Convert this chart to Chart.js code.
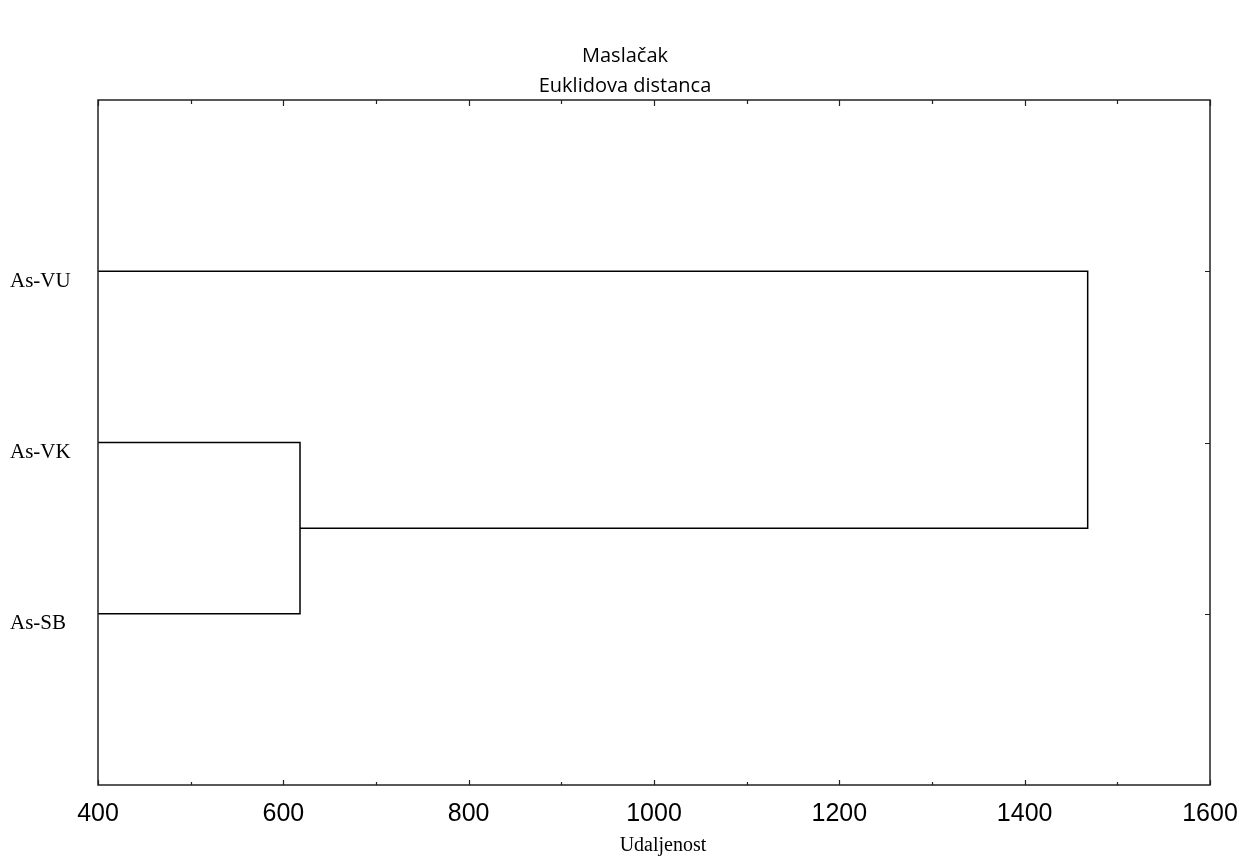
<!DOCTYPE html>
<html>
<head>
<meta charset="utf-8">
<script src="https://cdn.jsdelivr.net/npm/chart.js@4.4.0/dist/chart.umd.min.js"></script>
<style>
  html, body { margin: 0; padding: 0; background: #fff; }
  #wrap { width: 1254px; height: 861px; }
</style>
</head>
<body>
<div id="wrap"><canvas id="myChart" width="1254" height="861"></canvas></div>
<script>
// leaves, top to bottom
var leaves = ['As-VU', 'As-VK', 'As-SB'];
// linkage steps: [left member, right member, distance]
var merges = [
    ['As-VK', 'As-SB', 618],
    ['c1', 'As-VU', 1468]
];
var titleLines = ['Maslačak', 'Euklidova distanca'];
var xTitle = 'Udaljenost';
var xMin = 400, xMax = 1600;
var xMajor = [400, 600, 800, 1000, 1200, 1400, 1600];
var xMinor = [500, 700, 900, 1100, 1300, 1500];

// position and height of each node (leaf or cluster)
var pos = {}, height = {};
leaves.forEach(function (name, i) { pos[name] = i + 1; height[name] = xMin; });

var datasets = [];
merges.forEach(function (m, i) {
    var a = m[0], b = m[1], d = m[2];
    datasets.push({
        data: [
            {x: height[a], y: pos[a]},
            {x: d, y: pos[a]},
            {x: d, y: pos[b]},
            {x: height[b], y: pos[b]}
        ],
        showLine: true,
        borderColor: '#000',
        borderWidth: 1.5,
        pointRadius: 0,
        fill: false
    });
    var c = 'c' + (i + 1);
    pos[c] = (pos[a] + pos[b]) / 2;
    height[c] = d;
});

// frame, inward tick marks and the titles
var framePlugin = {
    id: 'frame',
    afterDraw: function (chart) {
        var c = chart.ctx, a = chart.chartArea;
        var xs = chart.scales.x, ys = chart.scales.y;
        c.save();
        c.strokeStyle = '#222';
        c.lineWidth = 1.5;
        c.strokeRect(a.left, a.top, a.right - a.left, a.bottom - a.top);
        c.beginPath();
        xMajor.forEach(function (v) {
            var p = Math.round(xs.getPixelForValue(v)) + 0.5;
            c.moveTo(p, a.bottom); c.lineTo(p, a.bottom - 5);
            c.moveTo(p, a.top); c.lineTo(p, a.top + 6);
        });
        xMinor.forEach(function (v) {
            var p = Math.round(xs.getPixelForValue(v)) + 0.5;
            c.moveTo(p, a.bottom); c.lineTo(p, a.bottom - 3);
            c.moveTo(p, a.top); c.lineTo(p, a.top + 4);
        });
        leaves.forEach(function (name, i) {
            var p = Math.round(ys.getPixelForValue(i + 1)) + 0.5;
            c.moveTo(a.right, p); c.lineTo(a.right - 5, p);
        });
        c.lineWidth = 1.2;
        c.stroke();

        c.fillStyle = '#000';
        c.textAlign = 'center';
        c.textBaseline = 'middle';
        c.font = '20px "Open Sans"';
        titleLines.forEach(function (t, i) {
            c.fillText(t, 625, 56 + i * 30);
        });
        c.font = '20px "Liberation Serif"';
        c.fillText(xTitle, 663, 846);
        c.restore();
    }
};

var ctx = document.getElementById('myChart').getContext('2d');
var myChart = new Chart(ctx, {
    type: 'scatter',
    data: { datasets: datasets },
    plugins: [framePlugin],
    options: {
        responsive: false,
        animation: false,
        layout: { padding: { left: 10, right: 44, top: 100, bottom: 0 } },
        plugins: {
            legend: { display: false },
            tooltip: { enabled: false },
            title: { display: false }
        },
        scales: {
            x: {
                type: 'linear',
                min: xMin,
                max: xMax,
                afterFit: function (s) { s.height = 76; },
                grid: { display: false, drawTicks: false },
                border: { display: false },
                ticks: {
                    stepSize: 200,
                    color: '#000',
                    padding: 14,
                    maxRotation: 0,
                    font: { family: 'Liberation Sans', size: 25 },
                    callback: function (v) { return String(v); }
                }
            },
            y: {
                type: 'linear',
                min: 0,
                max: 4,
                reverse: true,
                afterFit: function (s) { s.width = 88; },
                grid: { display: false, drawTicks: false },
                border: { display: false },
                ticks: {
                    stepSize: 1,
                    color: '#000',
                    crossAlign: 'far',
                    padding: 10,
                    labelOffset: 10,
                    font: { family: 'Liberation Serif', size: 21 },
                    callback: function (v) { return leaves[v - 1] || ''; }
                }
            }
        }
    }
});
</script>
</body>
</html>
